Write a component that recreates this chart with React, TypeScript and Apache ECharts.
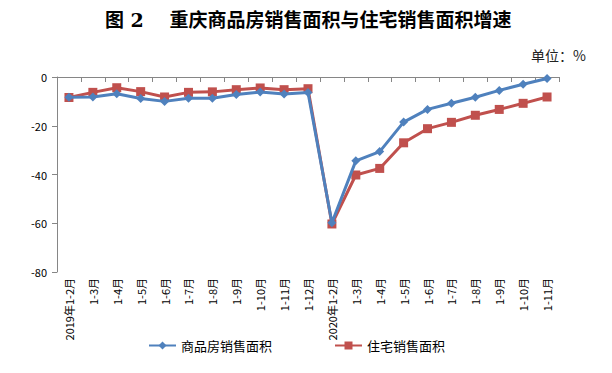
import React, { useEffect, useRef } from "react";
import * as echarts from "echarts";

const categories = [
  "2019年1-2月", "1-3月", "1-4月", "1-5月", "1-6月", "1-7月", "1-8月", "1-9月", "1-10月", "1-11月", "1-12月",
  "2020年1-2月", "1-3月", "1-4月", "1-5月", "1-6月", "1-7月", "1-8月", "1-9月", "1-10月", "1-11月",
];
const commercialHousing = [
  -8.3, -8.2, -6.9, -8.8, -10.0, -8.7, -8.7, -7.2, -6.2, -7.0, -6.4,
  -59.8, -34.4, -30.6, -18.5, -13.3, -10.8, -8.3, -5.5, -3.0, -0.6,
];
const residential = [
  -8.4, -6.3, -4.4, -6.0, -8.2, -6.3, -6.1, -5.2, -4.5, -5.2, -4.8,
  -60.3, -40.2, -37.5, -27.0, -21.2, -18.6, -15.7, -13.3, -10.8, -8.2,
];
const seriesNames = ["商品房销售面积", "住宅销售面积"];
const yTicks = { min: -80, max: 0, interval: 20 };

export default function App() {
  const ref = useRef<HTMLDivElement>(null);
  useEffect(() => {
    if (!ref.current) return;
    const chart = echarts.init(ref.current, null, { renderer: "svg" });
    const font = "'Noto Sans CJK SC', 'DejaVu Sans', sans-serif";
    chart.setOption({
      animation: false,
      backgroundColor: "#ffffff",
      textStyle: { fontFamily: font },
      title: [
        {
          text: "图 2　 重庆商品房销售面积与住宅销售面积增速",
          left: 100,
          top: 5,
          textStyle: { fontSize: 19, fontWeight: "bold", color: "#000", fontFamily: "'DejaVu Serif', 'Noto Sans CJK SC', serif" },
        },
        {
          text: "单位：%",
          right: 21,
          top: 43,
          textStyle: { fontSize: 14, fontWeight: "normal", color: "#222", fontFamily: font },
        },
      ],
      legend: {
        bottom: 16,
        left: 143,
        itemGap: 62,
        itemWidth: 27,
        itemHeight: 10,
        textStyle: { fontSize: 13, color: "#000" },
        data: seriesNames,
      },
      grid: { left: 57, right: 53, top: 77, bottom: 101 },
      xAxis: {
        type: "category",
        data: categories,
        boundaryGap: true,
        axisLine: { lineStyle: { color: "#868686" } },
        axisTick: { show: true, alignWithLabel: false, length: 5, lineStyle: { color: "#868686" } },
        axisLabel: { rotate: 90, interval: 0, fontSize: 11, color: "#000", margin: 6 },
      },
      yAxis: {
        type: "value",
        min: yTicks.min,
        max: yTicks.max,
        interval: yTicks.interval,
        splitLine: { show: false },
        axisLine: { show: true, lineStyle: { color: "#868686" } },
        axisTick: { show: true, length: 5, lineStyle: { color: "#868686" } },
        axisLabel: { fontSize: 11, color: "#000", margin: 10 },
      },
      series: [
        {
          name: seriesNames[0],
          type: "line",
          data: commercialHousing,
          symbol: "diamond",
          symbolSize: 9,
          lineStyle: { width: 3, color: "#4F81BD" },
          itemStyle: { color: "#4F81BD" },
          z: 3,
        },
        {
          name: seriesNames[1],
          type: "line",
          data: residential,
          symbol: "rect",
          symbolSize: 9,
          lineStyle: { width: 3, color: "#C0504D" },
          itemStyle: { color: "#C0504D" },
          z: 2,
        },
      ],
    });
    return () => chart.dispose();
  }, []);
  return <div ref={ref} style={{ width: 612, height: 373, position: "absolute", left: 0, top: 0 }} />;
}
